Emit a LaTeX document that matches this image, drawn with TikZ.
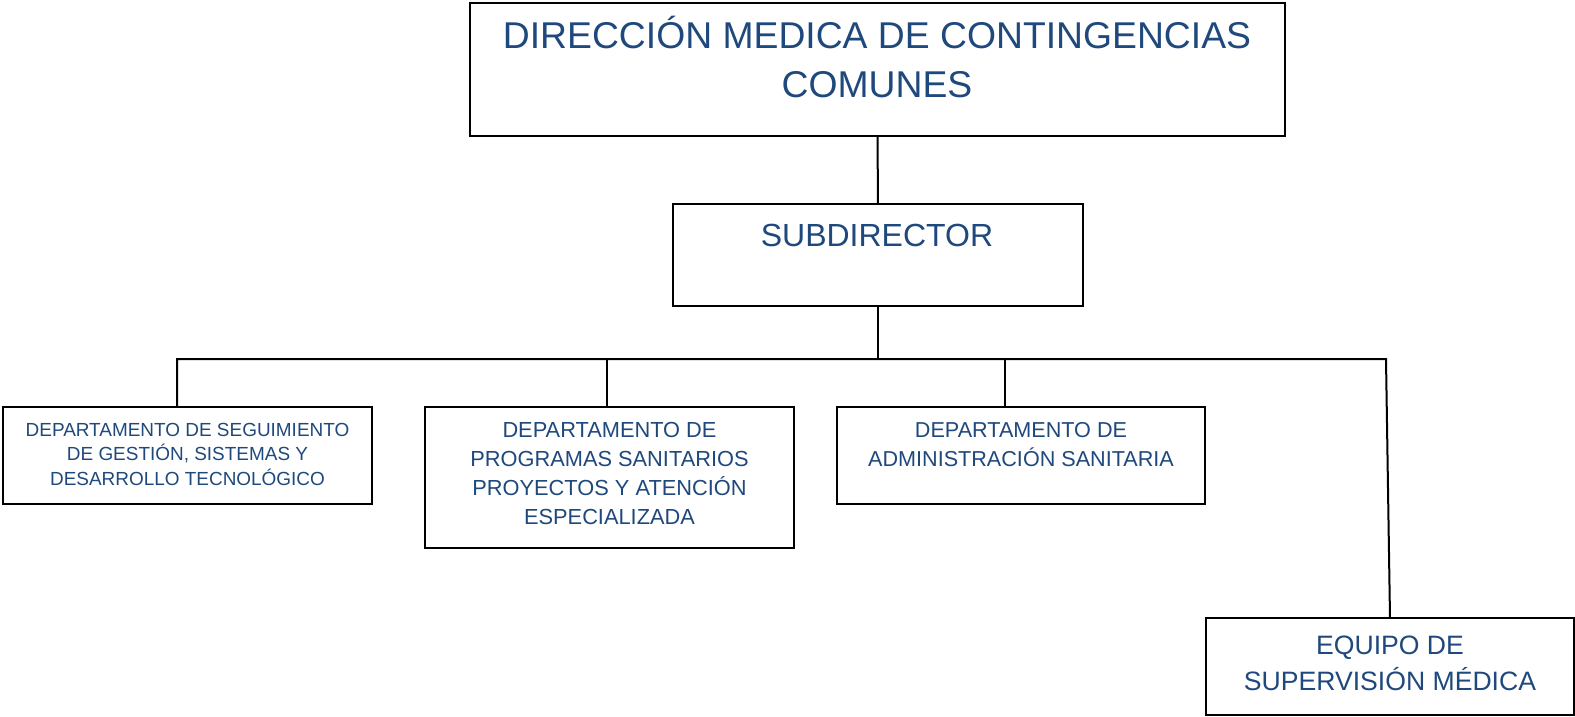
\documentclass[tikz,border=0pt]{standalone}
\usepackage{fontspec}
\setmainfont{Liberation Sans}
\definecolor{tblue}{HTML}{1F497D}
\begin{document}
\begin{tikzpicture}[x=1pt,y=-1pt,
  orgbox/.style={draw=black,line width=2pt,rectangle,inner sep=0pt,outer sep=0pt,fill=white},
  orgtext/.style={text=tblue,align=center,inner sep=0pt,outer sep=0pt},
  link/.style={draw=black,line width=2pt}]
\useasboundingbox (0,0) rectangle (1575,717);
% boxes
\node[orgbox,minimum width=815pt,minimum height=133pt] (top) at (877.5,69.5) {};
\node[orgbox,minimum width=410pt,minimum height=102pt] (sub) at (878,255) {};
\node[orgbox,minimum width=369pt,minimum height=97pt] (box1) at (187.5,455.5) {};
\node[orgbox,minimum width=369pt,minimum height=141pt] (box2) at (609.5,477.5) {};
\node[orgbox,minimum width=368pt,minimum height=97pt] (box3) at (1021,455.5) {};
\node[orgbox,minimum width=368pt,minimum height=97pt] (box4) at (1390,666.5) {};
% texts
\node[orgtext,anchor=north,font=\fontsize{37.3}{49}\selectfont] (ttop) at (877,14)
  {\strut DIRECCIÓN MEDICA DE CONTINGENCIAS\\COMUNES};
\node[orgtext,anchor=base,font=\fontsize{32}{42}\selectfont] (tsub) at (877,246) {SUBDIRECTOR};
\node[orgtext,anchor=north,font=\fontsize{18.95}{24.5}\selectfont] (t1) at (187.5,418.9)
  {\strut DEPARTAMENTO DE SEGUIMIENTO\\DE GESTIÓN, SISTEMAS Y\\DESARROLLO TECNOLÓGICO};
\node[orgtext,anchor=north,font=\fontsize{21.8}{28.7}\selectfont] (t2) at (609.5,417.9)
  {\strut DEPARTAMENTO DE\\PROGRAMAS SANITARIOS\\PROYECTOS Y ATENCIÓN\\ESPECIALIZADA};
\node[orgtext,anchor=north,font=\fontsize{21.6}{28.7}\selectfont] (t3) at (1021,417.9)
  {\strut DEPARTAMENTO DE\\ADMINISTRACIÓN SANITARIA};
\node[orgtext,anchor=north,font=\fontsize{26.6}{36}\selectfont] (t4) at (1390,628.8)
  {\strut EQUIPO DE\\SUPERVISIÓN MÉDICA};
% bus
\coordinate (j1) at (177,359);
\coordinate (j2) at (607,359);
\coordinate (j3) at (1005,359);
\coordinate (j4) at (1386,359);
\draw[link] (top.south) -- (sub.north);
\draw[link] (sub.south) -- (sub.south |- j1);
\draw[link,line join=miter] (j1 |- box1.north) -- (j1) -- (j4) -- (box4.north);
\draw[link] (j2) -- (j2 |- box2.north);
\draw[link] (j3) -- (j3 |- box3.north);
\end{tikzpicture}
\end{document}
